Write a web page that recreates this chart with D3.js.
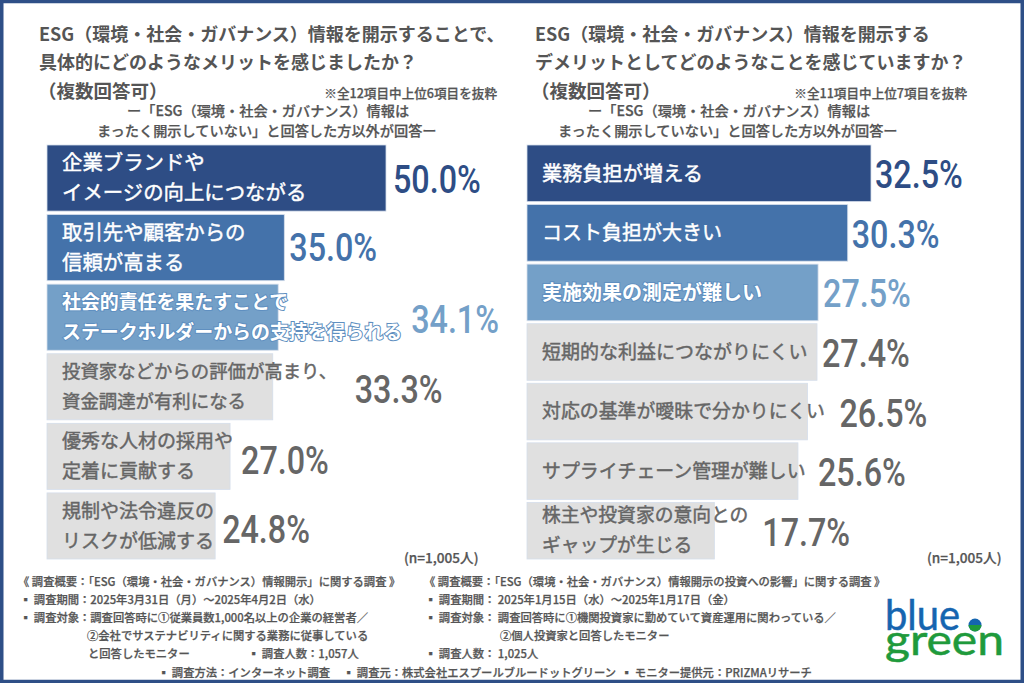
<!DOCTYPE html>
<html>
<head>
<meta charset="utf-8">
<script src="https://cdn.jsdelivr.net/npm/d3@7"></script>
<style>
  html, body { margin: 0; padding: 0; background: #fff; }
  svg { display: block; }
  text { font-family: "Noto Sans CJK JP", sans-serif; }
</style>
</head>
<body>
<div id="chart"></div>
<script>
// left panel
const meritLabels = [
  ["企業ブランドや", "イメージの向上につながる"],
  ["取引先や顧客からの", "信頼が高まる"],
  ["社会的責任を果たすことで", "ステークホルダーからの支持を得られる"],
  ["投資家などからの評価が高まり、", "資金調達が有利になる"],
  ["優秀な人材の採用や", "定着に貢献する"],
  ["規制や法令違反の", "リスクが低減する"]
]
const meritValues = [50.0, 35.0, 34.1, 33.3, 27.0, 24.8]

// right panel
const demeritLabels = [
  ["業務負担が増える"],
  ["コスト負担が大きい"],
  ["実施効果の測定が難しい"],
  ["短期的な利益につながりにくい"],
  ["対応の基準が曖昧で分かりにくい"],
  ["サプライチェーン管理が難しい"],
  ["株主や投資家の意向との", "ギャップが生じる"]
]
const demeritValues = [32.5, 30.3, 27.5, 27.4, 26.5, 25.6, 17.7]

// layout tweaks, the value labels sit at uneven distances in the original
const meritGaps = [7, 5, 133, 82, 11, 7]
const demeritGaps = [4, 4, 5, 5, 32, 20, 48]
const meritDrops = [1, 0, 2, 3, 4, 4]
const demeritDrops = [1, 2, 1, 1, 2, 1, 2]
const meritSizes = [20.4, 20.4, 18.9, 18.4, 19, 19]
const demeritSizes = [20.2, 20, 20, 19, 18.9, 18.9, 18.8]

const barColors = ["#2e4d85", "#4472aa", "#74a0c8"]
const greyBar = "#e0e0e0"
const greyText = "#666666"

const svg = d3.select("#chart").append("svg").attr("width", 1024).attr("height", 683)

svg.append("rect").attr("x", 1.75).attr("y", 1.5).attr("width", 1020.5).attr("height", 680)
  .attr("fill", "#fff").attr("stroke", "#2e4f87").attr("stroke-width", 3.5)

const drawPanel = (labels, values, gaps, drops, sizes, x0, x1, domainMax) => {
  const x = d3.scaleLinear().domain([0, domainMax]).range([x0, x1])
  const y = d3.scaleBand().domain(d3.range(values.length)).range([145, 559]).paddingInner(0.05)

  const g = svg.append("g")
  g.selectAll("rect").data(values).join("rect")
    .attr("x", x(0))
    .attr("y", (d, i) => y(i))
    .attr("width", d => x(d) - x(0))
    .attr("height", y.bandwidth())
    .attr("fill", (d, i) => barColors[i] || greyBar)
    .attr("stroke", "#d5deeb")
    .attr("stroke-width", 0.8)

  // no condensed face installed, so squeeze Roboto sideways
  g.selectAll("text.value").data(values).join("text")
    .attr("class", "value")
    .attr("transform", (d, i) => `translate(${x(d) + gaps[i]},${y(i) + y.bandwidth() / 2 + 13.5 + drops[i]}) scale(0.85,1)`)
    .attr("font-size", 38)
    .attr("font-weight", 500)
    .style("font-family", "Roboto, sans-serif")
    .attr("fill", (d, i) => barColors[i] || greyText)
    .text(d => d.toFixed(1) + "%")

  labels.forEach((lines, i) => {
    const cy = y(i) + y.bandwidth() / 2
    const color = i < 3 ? "#fff" : greyText
    lines.forEach((line, j) => {
      const t = g.append("text")
        .attr("x", x0 + 15)
        .attr("y", cy + (j - (lines.length - 1) / 2) * 30 + sizes[i] * 0.36)
        .attr("font-size", sizes[i])
        .attr("fill", color)
        .attr("stroke", color)
        .attr("stroke-width", 0.45)
        .text(line)
      if (i == 2) {
        // third bar label overruns the bar, so it has an outline
        t.attr("stroke", "#5f8fc0").attr("stroke-width", 2).attr("font-weight", 700).style("paint-order", "stroke")
      }
    })
  })
}

drawPanel(meritLabels, meritValues, meritGaps, meritDrops, meritSizes, 47, 386, 50)
drawPanel(demeritLabels, demeritValues, demeritGaps, demeritDrops, demeritSizes, 527, 871, 32.5)

// headings
const put = (str, x, y, size, weight, anchor) => {
  const t = svg.append("text")
    .attr("x", x).attr("y", y)
    .attr("font-size", size)
    .attr("font-weight", weight)
    .attr("text-anchor", anchor || "start")
    .attr("fill", "#555555")
    .text(str)
  // only regular and bold are installed, a thin stroke stands in for medium
  if (weight == 500) t.attr("stroke", "#555555").attr("stroke-width", 0.25)
}

put("ESG（環境・社会・ガバナンス）情報を開示することで、", 39, 40.5, 18, 700)
put("具体的にどのようなメリットを感じましたか？", 39, 68.5, 18, 700)
put("（複数回答可）", 38, 98, 18.5, 700)
put("※全12項目中上位6項目を抜粋", 497, 98, 12.6, 500, "end")
put("ー「ESG（環境・社会・ガバナンス）情報は", 127, 116, 14.2, 500)
put("まったく開示していない」と回答した方以外が回答ー", 97, 136, 14.2, 500)
put("(n=1,005人)", 404, 563, 13.6, 500)

put("ESG（環境・社会・ガバナンス）情報を開示する", 535, 40.5, 18, 700)
put("デメリットとしてどのようなことを感じていますか？", 535, 68.5, 18, 700)
put("（複数回答可）", 531, 98, 18.5, 700)
put("※全11項目中上位7項目を抜粋", 967, 98, 12.6, 500, "end")
put("ー「ESG（環境・社会・ガバナンス）情報は", 588, 116, 14.2, 500)
put("まったく開示していない」と回答した方以外が回答ー", 558, 136, 14.2, 500)
put("(n=1,005人)", 927, 563, 13.6, 500)

// survey notes
put("《 調査概要：「ESG（環境・社会・ガバナンス）情報開示」に関する調査 》", 18, 586, 11.3, 500)
put("▪ 調査期間：2025年3月31日（月）〜2025年4月2日（水）", 20, 604, 11.3, 500)
put("▪ 調査対象：調査回答時に①従業員数1,000名以上の企業の経営者／", 20, 622, 11.3, 500)
put("②会社でサステナビリティに関する業務に従事している", 87, 640, 11.3, 500)
put("と回答したモニター", 88, 658, 11.3, 500)
put("▪ 調査人数：1,057人", 248, 658, 11.3, 500)

put("《 調査概要：「ESG（環境・社会・ガバナンス）情報開示の投資への影響」に関する調査 》", 424, 586, 11.3, 500)
put("▪ 調査期間： 2025年1月15日（水）〜2025年1月17日（金）", 425, 604, 11.3, 500)
put("▪ 調査対象： 調査回答時に①機関投資家に勤めていて資産運用に関わっている／", 425, 622, 11.3, 500)
put("②個人投資家と回答したモニター", 500, 640, 11.3, 500)
put("▪ 調査人数： 1,025人", 425, 658, 11.3, 500)

put("▪ 調査方法：インターネット調査", 158, 677, 11.3, 500)
put("▪ 調査元：株式会社エスプールブルードットグリーン", 343, 677, 11.3, 500)
put("▪ モニター提供元：PRIZMAリサーチ", 621, 677, 11.3, 500)

// logo
const logoWord = (str, y, len, color) => {
  svg.append("text").attr("x", 885).attr("y", y).attr("font-size", 42).attr("fill", color)
    .attr("stroke", color).attr("stroke-width", 0.5)
    .style("font-family", "Lato, sans-serif")
    .attr("textLength", len).attr("lengthAdjust", "spacingAndGlyphs")
    .text(str)
}
logoWord("blue", 630, 75, "#1565b0")
logoWord("green", 655, 119, "#1f9a3c")
svg.append("circle").attr("cx", 975).attr("cy", 625).attr("r", 6.5).attr("fill", "#1565b0")
svg.append("path").attr("d", "M968.5 625a6.5 6.5 0 0 0 13 0z").attr("fill", "#1f9a3c")
</script>
</body>
</html>
